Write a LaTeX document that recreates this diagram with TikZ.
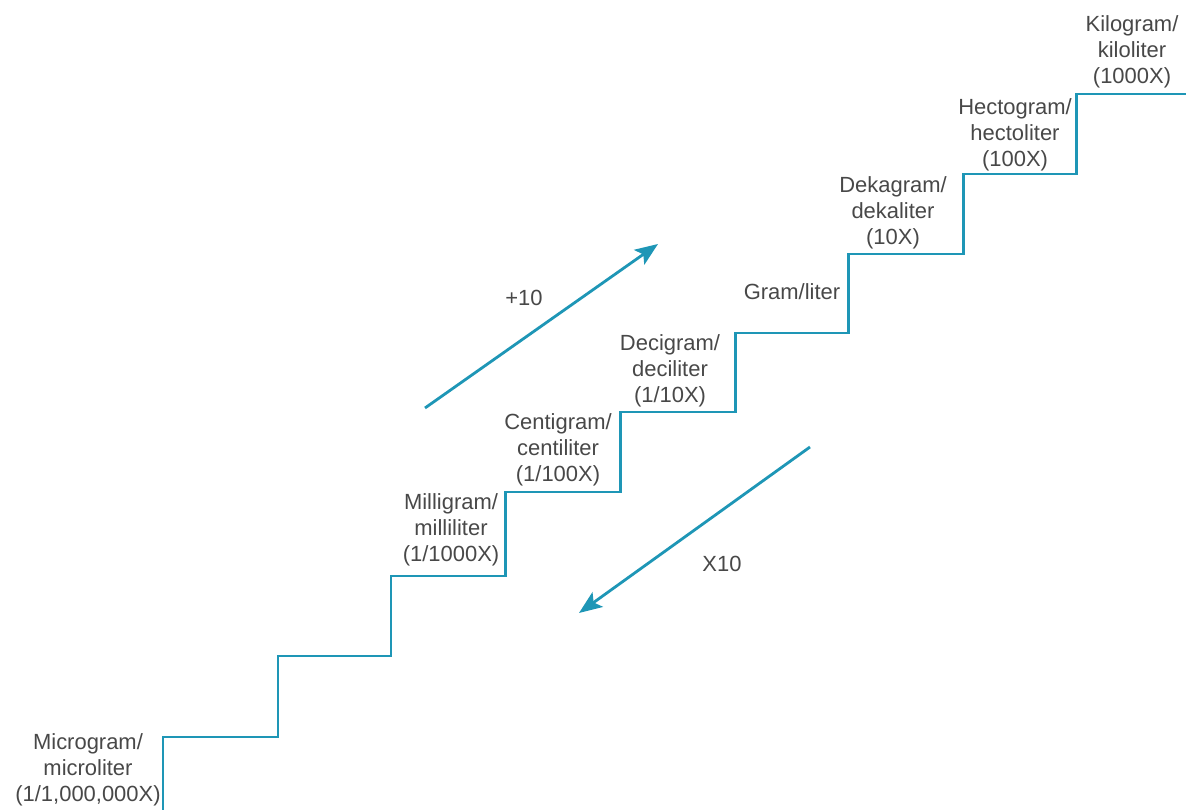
\documentclass[tikz,border=0pt]{standalone}
\usepackage{fontspec}
\setmainfont{Liberation Sans}
\usetikzlibrary{arrows.meta,positioning}
\definecolor{stairblue}{RGB}{30,150,182}
\definecolor{labelgray}{RGB}{72,72,72}

\begin{document}
\begin{tikzpicture}
[x=0.02cm,y=-0.02cm,>={Stealth[length=0.46cm,width=0.36cm,inset=0.1cm]},
 font=\fontsize{12.5}{14.8}\selectfont]
\tikzstyle{unit}=[text=labelgray, align=center, inner sep=0pt]
\tikzstyle{stair}=[draw=stairblue, line width=1.7pt, line join=miter]
\tikzstyle{dir}=[draw=stairblue, line width=1.6pt, ->]

\useasboundingbox (0,0) rectangle (1186,810);

% staircase
\path[stair] (163,812) |- (278,737) |- (391,656) |- (505,576) |- (620,492)
	|- (735,412) |- (848,333) |- (963,254) |- (1076,174) |- (1188,94);

\node[unit] (micro) at (88,770) {Microgram/\\microliter\\(1/1,000,000X)};
\node[unit] (milli) at (451,530) {Milligram/\\milliliter\\(1/1000X)};
\node[unit] (centi) at (558,450) {Centigram/\\centiliter\\(1/100X)};
\node[unit] (deci) at (670,371) {Decigram/\\deciliter\\(1/10X)};
\node[unit] (gram) at (792,292) {Gram/liter};
\node[unit] (deka) at (893,213) {Dekagram/\\dekaliter\\(10X)};
\node[unit] (hecto) at (1015,135) {Hectogram/\\hectoliter\\(100X)};
\node[unit] (kilo) at (1132,52) {Kilogram/\\kiloliter\\(1000X)};

% direction arrows
\coordinate (up_a) at (425,408);
\coordinate (up_b) at (658,244);
\coordinate (down_a) at (810,447);
\coordinate (down_b) at (579,613);
\node[unit] (plus) at (524,298) {+10};
\node[unit] (times) at (722,564) {X10};

\path[dir] (up_a) -- (up_b);
\path[dir] (down_a) -- (down_b);
\end{tikzpicture}
\end{document}
